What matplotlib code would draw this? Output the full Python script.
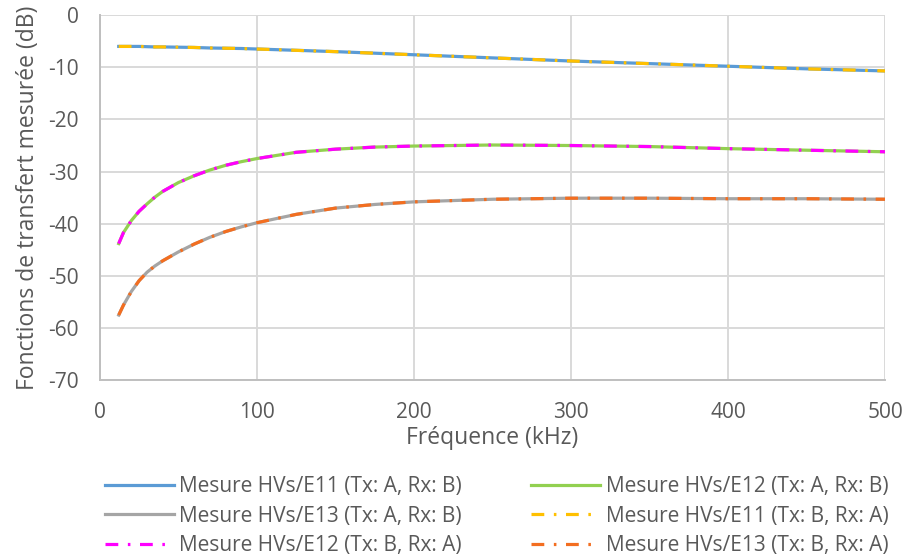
import matplotlib.pyplot as plt
import numpy as np

plt.rcParams['font.family'] = ['Open Sans', 'DejaVu Sans']
plt.rcParams['axes.unicode_minus'] = False

# frequency points (kHz)
freq = [12, 15, 20, 25, 30, 35, 40, 50, 60, 70, 80, 90, 100, 125, 150, 175, 200,
        250, 300, 350, 400, 450, 500]

e11_ab = [-6.0, -6.0, -6.0, -6.0, -6.05, -6.1, -6.1, -6.15, -6.2, -6.3, -6.35, -6.4,
          -6.5, -6.75, -7.0, -7.3, -7.6, -8.2, -8.8, -9.3, -9.8, -10.3, -10.7]
e12_ab = [-43.8, -41.7, -39.4, -37.6, -36.2, -34.9, -33.8, -32.1, -30.8, -29.7, -28.8,
          -28.1, -27.5, -26.3, -25.7, -25.3, -25.1, -24.9, -25.0, -25.2, -25.6, -25.9, -26.2]
e13_ab = [-57.5, -55.6, -53.0, -50.9, -49.3, -48.1, -47.1, -45.4, -43.9, -42.6, -41.5,
          -40.6, -39.8, -38.2, -37.0, -36.3, -35.8, -35.3, -35.1, -35.1, -35.2, -35.2, -35.3]
e11_ba = [-6.0, -6.0, -6.0, -6.0, -6.05, -6.1, -6.1, -6.15, -6.2, -6.3, -6.35, -6.4,
          -6.5, -6.75, -7.0, -7.3, -7.6, -8.2, -8.8, -9.3, -9.8, -10.3, -10.7]
e12_ba = [-43.8, -41.7, -39.4, -37.6, -36.2, -34.9, -33.8, -32.1, -30.8, -29.7, -28.8,
          -28.1, -27.5, -26.3, -25.7, -25.3, -25.1, -24.9, -25.0, -25.2, -25.6, -25.9, -26.2]
e13_ba = [-57.5, -55.6, -53.0, -50.9, -49.3, -48.1, -47.1, -45.4, -43.9, -42.6, -41.5,
          -40.6, -39.8, -38.2, -37.0, -36.3, -35.8, -35.3, -35.1, -35.1, -35.2, -35.2, -35.3]

labels = ['Mesure HVs/E11 (Tx: A, Rx: B)', 'Mesure HVs/E12 (Tx: A, Rx: B)',
          'Mesure HVs/E13 (Tx: A, Rx: B)', 'Mesure HVs/E11 (Tx: B, Rx: A)',
          'Mesure HVs/E12 (Tx: B, Rx: A)', 'Mesure HVs/E13 (Tx: B, Rx: A)']

fig = plt.figure(figsize=(9.08, 5.60), dpi=100)
ax = fig.add_axes([0.110, 0.321, 0.865, 0.652])

lw = 2.3
dashdot = (4, 3, 0.8, 3)
l1, = ax.plot(freq, e11_ab, color='#5B9BD5', lw=lw, label=labels[0])
l2, = ax.plot(freq, e12_ab, color='#92D050', lw=lw, label=labels[1])
l3, = ax.plot(freq, e13_ab, color='#A5A5A5', lw=lw, label=labels[2])
l4, = ax.plot(freq, e11_ba, color='#FFC000', lw=lw, dashes=dashdot, label=labels[3])
l5, = ax.plot(freq, e12_ba, color='#FF00FF', lw=lw, dashes=dashdot, label=labels[4])
l6, = ax.plot(freq, e13_ba, color='#F36E20', lw=lw, dashes=dashdot, label=labels[5])

ax.set_xlim(0, 500)
ax.set_ylim(-70, 0)
ax.set_xticks(np.arange(0, 501, 100))
ax.set_yticks(np.arange(-70, 1, 10))
ax.grid(True, color='#D9D9D9', lw=1.4)
ax.set_axisbelow(True)
for s in ['top', 'right']:
    ax.spines[s].set_visible(False)
for s in ['left', 'bottom']:
    ax.spines[s].set_color('#BFBFBF')
    ax.spines[s].set_linewidth(1.4)
ax.tick_params(length=0, labelsize=15, colors='#595959')
ax.tick_params(axis='x', pad=16)
ax.tick_params(axis='y', pad=15)
ax.set_xlabel('Fréquence (kHz)', fontsize=16.5, color='#595959', labelpad=2)
ax.set_ylabel('Fonctions de transfert mesurée (dB)', fontsize=16.5, color='#595959', labelpad=6)

handles = [l1, l3, l5, l2, l4, l6]
fig.legend(handles, [h.get_label() for h in handles], ncol=2, loc='upper left',
           bbox_to_anchor=(0.104, 0.168), frameon=False, fontsize=15, borderpad=0,
           handlelength=3.3, columnspacing=3.3, labelspacing=0.4, handletextpad=0.28,
           labelcolor='#595959')

fig.savefig('out.png', dpi=100)
